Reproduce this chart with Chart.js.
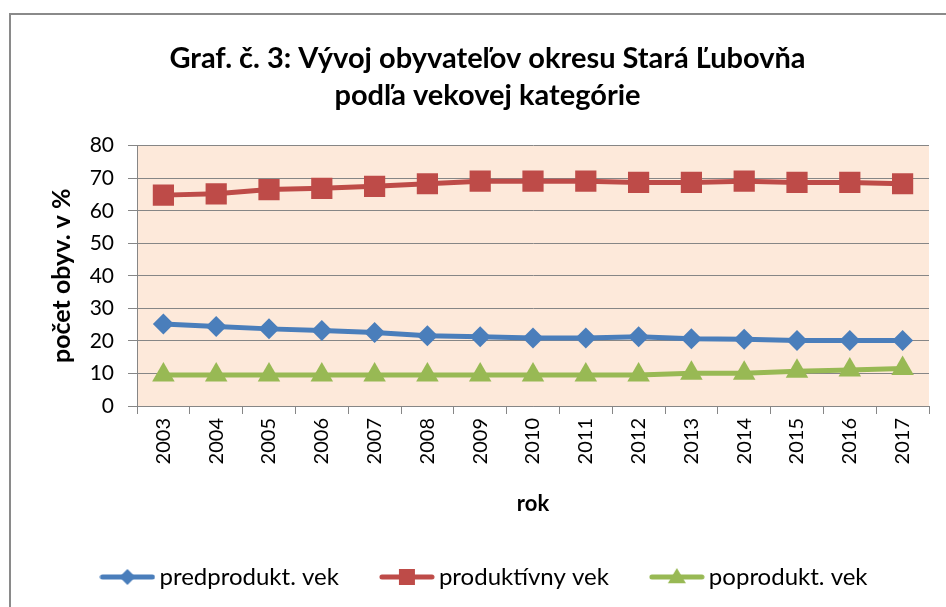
<!DOCTYPE html>
<html>
<head>
<meta charset="utf-8">
<script src="https://cdn.jsdelivr.net/npm/chart.js@4"></script>
<style>
  html, body { margin: 0; padding: 0; background: #fff; overflow: hidden; }
  #wrap { position: relative; width: 946px; height: 607px; }
  #frame { position: absolute; left: 9px; top: 13px; width: 1000px; height: 700px; border: 2px solid #8a8a8a; box-sizing: border-box; }
  canvas { position: absolute; left: 0; top: 0; }
</style>
</head>
<body>
<div id="wrap">
  <div id="frame"></div>
  <canvas id="chart" width="946" height="607"></canvas>
</div>
<script>
const years = ['2003', '2004', '2005', '2006', '2007', '2008', '2009', '2010', '2011', '2012', '2013', '2014', '2015', '2016', '2017'];
const predprodukt = [25.2, 24.4, 23.7, 23.2, 22.6, 21.6, 21.3, 20.9, 20.9, 21.3, 20.7, 20.5, 20.1, 20.1, 20.1];
const produktivny = [64.8, 65.2, 66.5, 66.9, 67.5, 68.3, 69.1, 69.1, 69.1, 68.7, 68.7, 69.1, 68.7, 68.7, 68.3];
const poprodukt = [9.5, 9.5, 9.5, 9.5, 9.5, 9.5, 9.5, 9.5, 9.5, 9.5, 10.1, 10.1, 10.7, 11.1, 11.5];
const seriesNames = ['predprodukt. vek', 'produktívny vek', 'poprodukt. vek'];

const blue = '#4a7ebb';
const red = '#be4b48';
const green = '#98b954';
const fontFamily = 'Lato, "Open Sans", sans-serif';

// legend symbol: line with marker in the middle
function legendIcon(color, style, radius) {
    const c = document.createElement('canvas');
    c.width = 56;
    c.height = 24;
    const g = c.getContext('2d');
    g.strokeStyle = color;
    g.lineWidth = 5;
    g.lineCap = 'round';
    g.beginPath();
    g.moveTo(3, 12);
    g.lineTo(53, 12);
    g.stroke();
    g.fillStyle = color;
    g.beginPath();
    if (style === 'diamond') {
        g.moveTo(28 - radius, 12); g.lineTo(28, 12 - radius);
        g.lineTo(28 + radius, 12); g.lineTo(28, 12 + radius);
    } else if (style === 'square') {
        g.rect(28 - radius, 12 - radius, radius * 2, radius * 2);
    } else {
        g.moveTo(28, 12 - radius); g.lineTo(28 + radius, 12 + radius * 0.7);
        g.lineTo(28 - radius, 12 + radius * 0.7);
    }
    g.closePath();
    g.fill();
    return c;
}

const icons = [legendIcon(blue, 'diamond', 8), legendIcon(red, 'square', 8), legendIcon(green, 'triangle', 9)];

const plotBackground = {
    id: 'plotBackground',
    beforeDraw(chart) {
        const { ctx, chartArea } = chart;
        ctx.save();
        ctx.fillStyle = '#fde9da';
        ctx.fillRect(chartArea.left, chartArea.top, chartArea.right - chartArea.left, chartArea.bottom - chartArea.top);
        ctx.restore();
    }
};

const ctx = document.getElementById('chart').getContext('2d');
new Chart(ctx, {
    type: 'line',
    data: {
        labels: years,
        datasets: [
            {
                label: seriesNames[0],
                data: predprodukt,
                borderColor: blue,
                backgroundColor: blue,
                borderWidth: 5,
                pointStyle: 'rectRot',
                pointRadius: 10.5,
                pointHoverRadius: 10.5,
                pointBorderWidth: 0
            },
            {
                label: seriesNames[1],
                data: produktivny,
                borderColor: red,
                backgroundColor: red,
                borderWidth: 5,
                pointStyle: 'rect',
                pointRadius: 15,
                pointHoverRadius: 15,
                pointBorderWidth: 0
            },
            {
                label: seriesNames[2],
                data: poprodukt,
                borderColor: green,
                backgroundColor: green,
                borderWidth: 5,
                pointStyle: 'triangle',
                pointRadius: 13,
                pointHoverRadius: 13,
                pointBorderWidth: 0
            }
        ]
    },
    options: {
        responsive: false,
        animation: false,
        layout: { padding: { left: 46, right: 17, top: 0, bottom: 8 } },
        scales: {
            x: {
                offset: true,
                afterFit: (scale) => { scale.height = 111; },
                grid: {
                    offset: true,
                    drawOnChartArea: false,
                    tickLength: 8,
                    color: '#868686'
                },
                border: { color: '#868686' },
                ticks: {
                    minRotation: 90,
                    maxRotation: 90,
                    padding: 4,
                    color: '#000',
                    font: { family: fontFamily, size: 20 }
                },
                title: {
                    display: true,
                    text: 'rok',
                    color: '#000',
                    padding: { top: 6, bottom: 0 },
                    font: { family: fontFamily, size: 22, weight: 'bold' }
                }
            },
            y: {
                min: 0,
                max: 80,
                afterFit: (scale) => { scale.width = 91; },
                grid: { color: '#868686', tickLength: 9 },
                border: { color: '#868686' },
                ticks: {
                    stepSize: 10,
                    autoSkip: false,
                    padding: 14,
                    color: '#000',
                    font: { family: fontFamily, size: 21 }
                },
                title: {
                    display: true,
                    text: 'počet obyv. v %',
                    color: '#000',
                    padding: { top: 1, bottom: 4 },
                    font: { family: fontFamily, size: 25, weight: 'bold' }
                }
            }
        },
        plugins: {
            title: {
                display: true,
                text: ['Graf. č. 3: Vývoj obyvateľov okresu Stará Ľubovňa', 'podľa vekovej kategórie'],
                color: '#000',
                font: { family: fontFamily, size: 29, weight: 'bold', lineHeight: 1.27 },
                padding: { top: 40, bottom: 32 }
            },
            legend: {
                position: 'bottom',
                labels: {
                    usePointStyle: true,
                    pointStyleWidth: 40,
                    padding: 48,
                    color: '#000',
                    font: { family: fontFamily, size: 24 },
                    generateLabels: (chart) => chart.data.datasets.map((ds, i) => ({
                        text: ds.label,
                        pointStyle: icons[i],
                        fillStyle: ds.borderColor,
                        strokeStyle: ds.borderColor,
                        fontColor: '#000',
                        lineWidth: 0,
                        datasetIndex: i
                    }))
                }
            },
            tooltip: { enabled: false }
        }
    },
    plugins: [plotBackground]
});
</script>
</body>
</html>
